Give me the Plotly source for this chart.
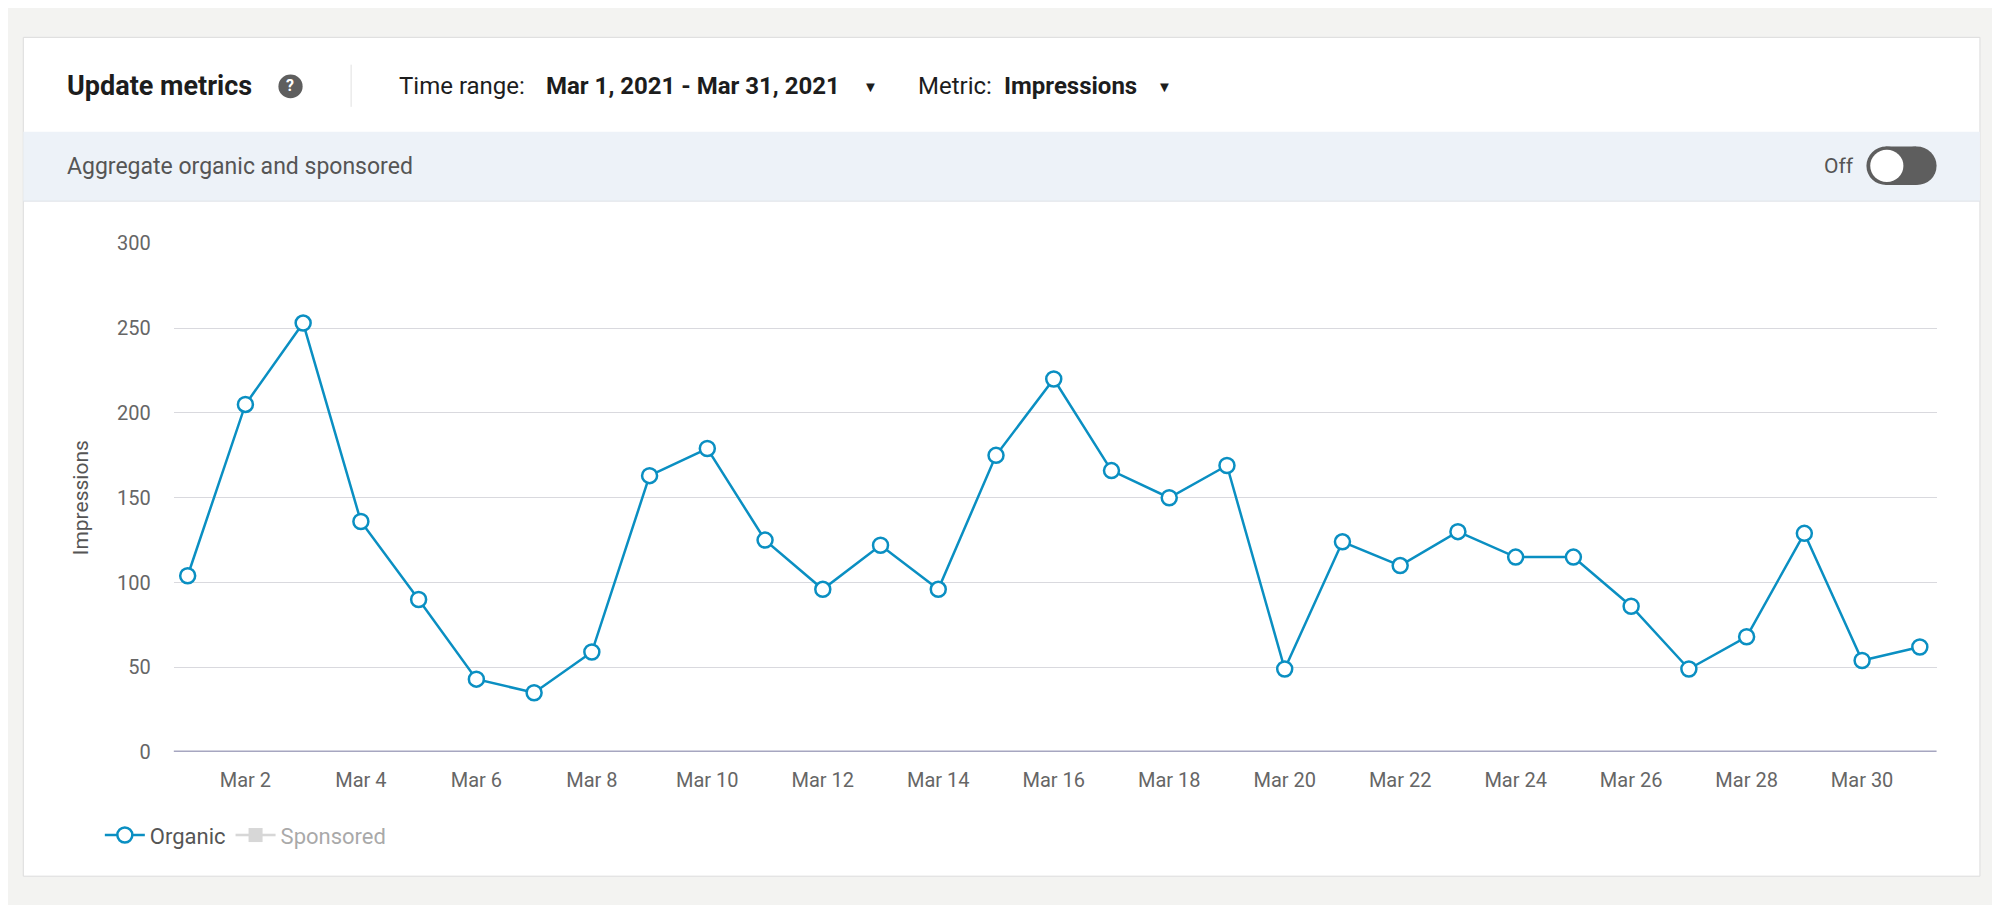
import plotly.graph_objects as go

days = list(range(1, 32))
organic = [104, 205, 253, 136, 90, 43, 35, 59, 163, 179, 125, 96, 122, 96, 175,
           220, 166, 150, 169, 49, 124, 110, 130, 115, 115, 86, 49, 68, 129, 54, 62]
tick_days = list(range(2, 31, 2))
tick_labels = ["Mar %d" % d for d in tick_days]
y_ticks = [0, 50, 100, 150, 200, 250, 300]

W, H = 1568, 710  # reference layout units


def px(x):
    return x / W


def py(y):
    return 1 - y / H


BLUE = "#0a8fc2"
FONT = "Roboto, Liberation Sans, sans-serif"

fig = go.Figure()
fig.add_trace(go.Scatter(
    x=days, y=organic, name="Organic", mode="lines+markers",
    line=dict(color=BLUE, width=2.5),
    marker=dict(size=15, color="white", line=dict(color=BLUE, width=2.5)),
))
fig.add_trace(go.Scatter(
    x=days, y=[0] * len(days), name="Sponsored", mode="lines+markers",
    visible="legendonly",
    line=dict(color="#b0b0b0", width=2.5),
    marker=dict(symbol="square", size=14, color="#b0b0b0"),
))

shapes = [
    dict(type="rect", xref="paper", yref="paper", x0=px(12), x1=px(1546), y0=py(690), y1=py(14),
         fillcolor="white", line=dict(color="#dcdcdc", width=1), layer="below"),
    dict(type="rect", xref="paper", yref="paper", x0=px(12), x1=px(1546), y0=py(146), y1=py(90),
         fillcolor="#edf2f8", line=dict(width=0), layer="below"),
    dict(type="line", xref="paper", yref="paper", x0=px(12), x1=px(1546), y0=py(146), y1=py(146),
         line=dict(color="#dfe3e8", width=1)),
    dict(type="line", xref="paper", yref="paper", x0=px(269), x1=px(269), y0=py(70), y1=py(36),
         line=dict(color="#e0e0e0", width=1)),
    # toggle pill
    dict(type="rect", xref="paper", yref="paper", x0=px(1472), x1=px(1496), y0=py(133), y1=py(102),
         fillcolor="#5e5e5e", line=dict(width=0)),
    dict(type="circle", xref="paper", yref="paper", x0=px(1457), x1=px(1488), y0=py(133), y1=py(102),
         fillcolor="#5e5e5e", line=dict(width=0)),
    dict(type="circle", xref="paper", yref="paper", x0=px(1481), x1=px(1512), y0=py(133), y1=py(102),
         fillcolor="#5e5e5e", line=dict(width=0)),
    dict(type="circle", xref="paper", yref="paper", x0=px(1460), x1=px(1486), y0=py(130.5), y1=py(104.5),
         fillcolor="white", line=dict(width=0)),
    dict(type="circle", xref="paper", yref="paper", x0=px(212), x1=px(231), y0=py(63), y1=py(44),
         fillcolor="#5e5e5e", line=dict(width=0)),
]

ann = [
    dict(x=px(45), y=py(53), text="<b>Update metrics</b>", size=27, color="#1d1d1d"),
    dict(x=px(216), y=py(53), text="<b>?</b>", size=16, color="white"),
    dict(x=px(305), y=py(53), text="Time range:", size=24, color="#1d1d1d"),
    dict(x=px(420), y=py(53), text="<b>Mar 1, 2021 - Mar 31, 2021</b>", size=24, color="#1d1d1d"),
    dict(x=px(669), y=py(54), text="▼", size=15, color="#1d1d1d"),
    dict(x=px(712), y=py(53), text="Metric:", size=24, color="#1d1d1d"),
    dict(x=px(779), y=py(53), text="<b>Impressions</b>", size=24, color="#1d1d1d"),
    dict(x=px(899), y=py(54), text="▼", size=15, color="#1d1d1d"),
    dict(x=px(45), y=py(118), text="Aggregate organic and sponsored", size=23, color="#555555"),
    dict(x=px(1422), y=py(118), text="Off", size=21, color="#555555"),
]
annotations = [dict(xref="paper", yref="paper", x=a["x"], y=a["y"], text=a["text"],
                    showarrow=False, xanchor="left", yanchor="middle",
                    font=dict(family=FONT, size=a["size"], color=a["color"])) for a in ann]

fig.update_layout(
    width=2000, height=905,
    margin=dict(l=0, r=0, t=0, b=0),
    paper_bgcolor="#f3f3f1", plot_bgcolor="white",
    font=dict(family=FONT, color="#666666"),
    shapes=shapes, annotations=annotations,
    showlegend=True,
    legend=dict(orientation="h", x=px(72), y=py(657), xanchor="left", yanchor="middle",
                font=dict(size=22, color="#555555"), bgcolor="rgba(0,0,0,0)",
                itemwidth=40),
    xaxis=dict(domain=[px(130), px(1512)], range=[0.76, 31.29],
               tickvals=tick_days, ticktext=tick_labels, showgrid=False, zeroline=False,
               ticks="outside", ticklen=10, tickcolor="white",
               tickfont=dict(size=20, color="#666666"), fixedrange=True),
    yaxis=dict(domain=[py(590), py(180)], range=[0, 300], tickvals=y_ticks,
               gridcolor="#d9d9de", gridwidth=1, zeroline=False, ticks="outside",
               ticklen=18, tickcolor="white",
               tickfont=dict(size=20, color="#666666"),
               title=dict(text="Impressions", font=dict(size=21, color="#555555"), standoff=22)),
)
fig.add_hline(y=0, line=dict(color="#a6a6c0", width=3))

fig.write_html("out.html")
